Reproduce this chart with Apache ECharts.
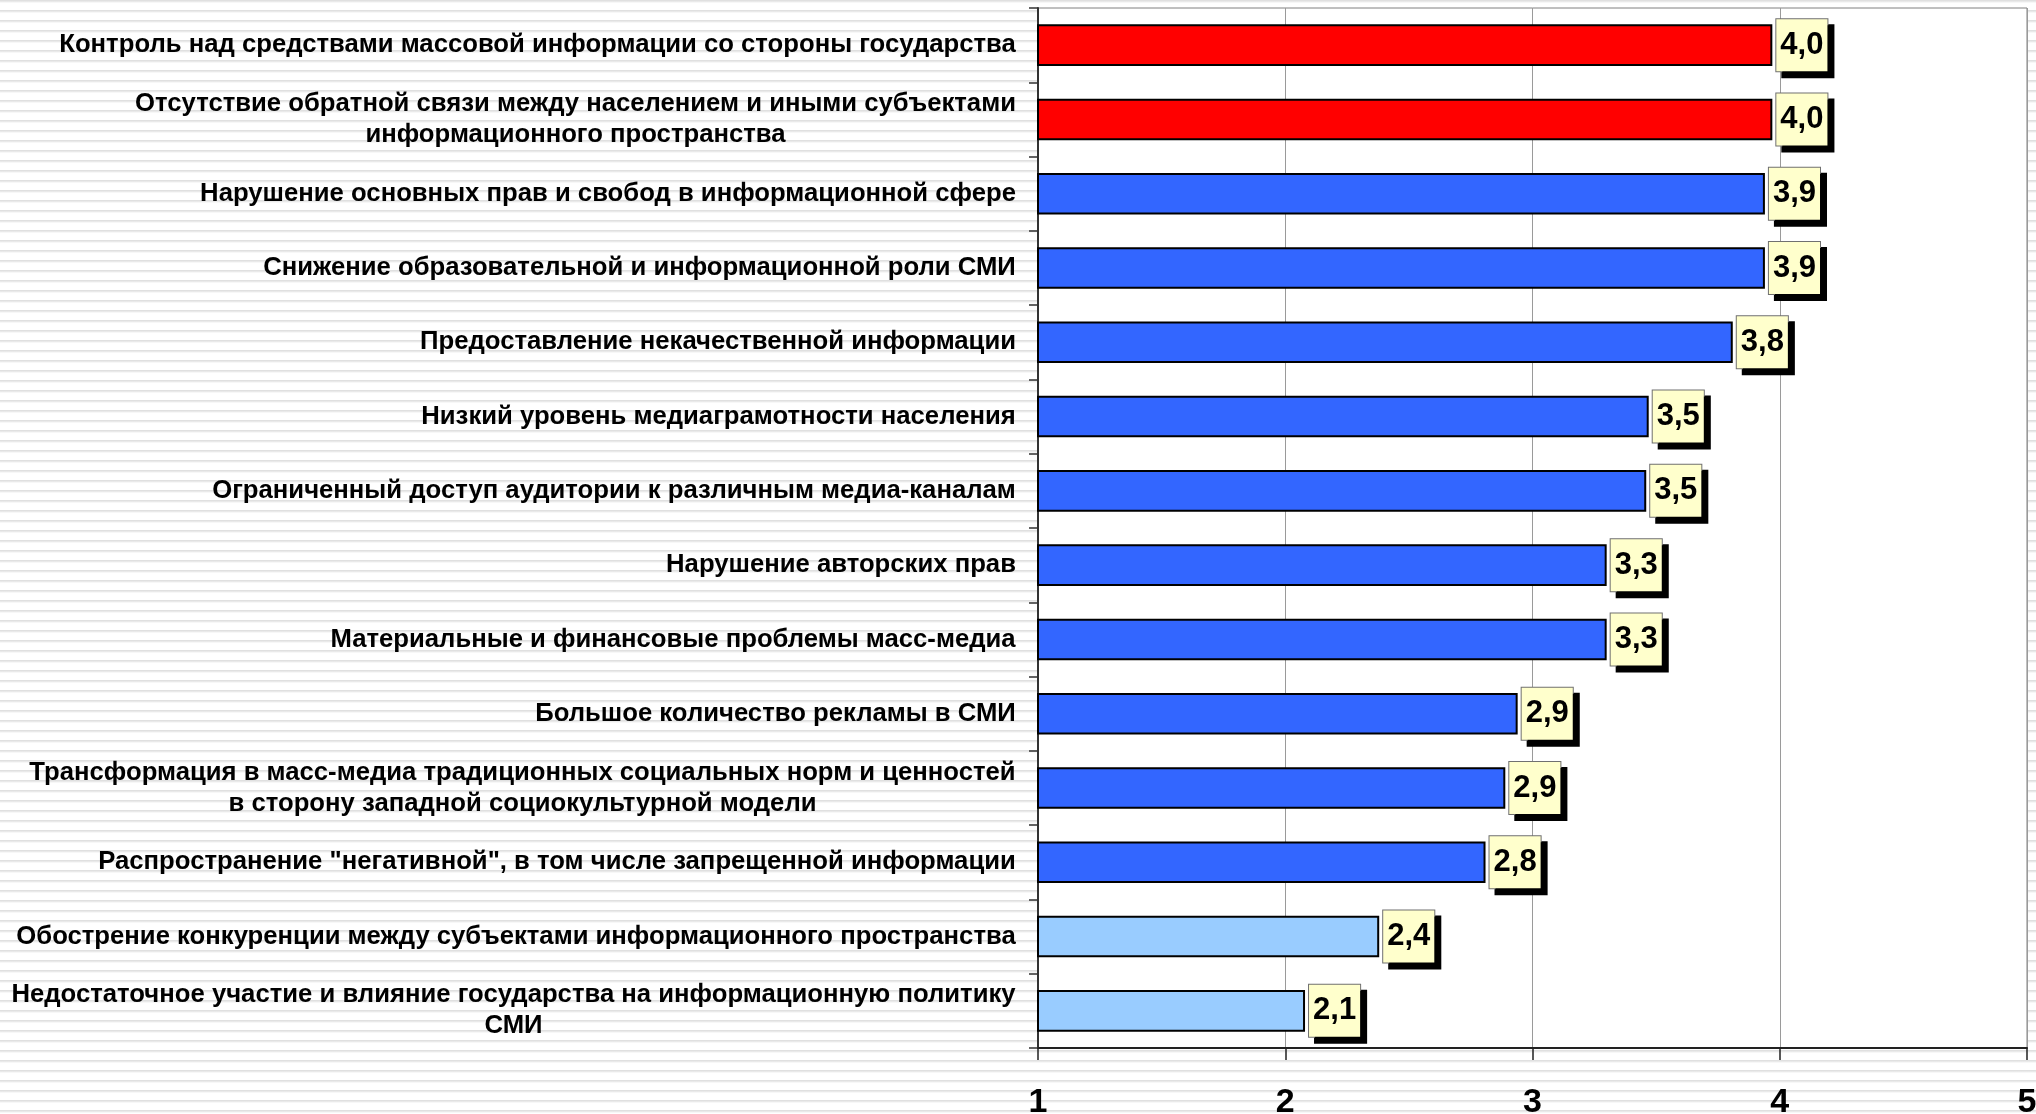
<!DOCTYPE html>
<html>
<head>
<meta charset="utf-8">
<script src="https://cdn.jsdelivr.net/npm/echarts@6/dist/echarts.min.js"></script>
<style>
html, body { margin: 0; padding: 0; }
#chart {
  width: 2036px; height: 1114px;
  background: repeating-linear-gradient(to bottom, #dcdcdc 0px, #e4e4e4 1px, #efefef 2px, #ffffff 3px, #ffffff 10px);
}
</style>
</head>
<body>
<div id="chart"></div>
<script>
const categories = [
  'Контроль над средствами массовой информации со стороны государства',
  'Отсутствие обратной связи между населением и иными субъектами\nинформационного пространства',
  'Нарушение основных прав и свобод в информационной сфере',
  'Снижение образовательной и информационной роли СМИ',
  'Предоставление некачественной информации',
  'Низкий уровень медиаграмотности населения',
  'Ограниченный доступ аудитории к различным медиа-каналам',
  'Нарушение авторских прав',
  'Материальные и финансовые проблемы масс-медиа',
  'Большое количество рекламы в СМИ',
  'Трансформация в масс-медиа традиционных социальных норм и ценностей\nв сторону западной социокультурной модели',
  'Распространение "негативной", в том числе запрещенной информации',
  'Обострение конкуренции между субъектами информационного пространства',
  'Недостаточное участие и влияние государства на информационную политику\nСМИ'
];
const values = [3.97, 3.97, 3.94, 3.94, 3.81, 3.47, 3.46, 3.30, 3.30, 2.94, 2.89, 2.81, 2.38, 2.08];
const xTicks = [1, 2, 3, 4, 5];

const CAT_FONT_SIZE = 25.7;
const ctx = document.createElement('canvas').getContext('2d');
ctx.font = 'bold ' + CAT_FONT_SIZE + 'px "Liberation Sans", Arial, sans-serif';
const rich = {};
categories.forEach((c, i) => {
  const lines = c.split('\n');
  const w = Math.max(...lines.map(l => ctx.measureText(l).width));
  rich['l' + i] = { width: Math.ceil(w) + 2, align: 'center', fontSize: CAT_FONT_SIZE, fontWeight: 'bold',
    fontFamily: '"Liberation Sans", Arial, sans-serif', color: '#000', lineHeight: 31 };
});

function barColor(i) {
  if (i < 2) return '#FF0000';
  if (i >= 12) return '#99CCFF';
  return '#3366FF';
}

const chart = echarts.init(document.getElementById('chart'));
chart.setOption({
  backgroundColor: 'transparent',
  animation: false,
  grid: {
    left: 1038, right: 9, top: 8, bottom: 66,
    containLabel: false, outerBoundsMode: 'none',
    show: true, backgroundColor: '#ffffff', borderColor: '#808080', borderWidth: 1
  },
  xAxis: {
    type: 'value',
    min: xTicks[0], max: xTicks[xTicks.length - 1], interval: xTicks[1] - xTicks[0],
    axisLine: { show: true, lineStyle: { color: '#222', width: 2 } },
    axisTick: { show: true, length: 12, lineStyle: { color: '#222', width: 1.5 } },
    splitLine: { show: true, lineStyle: { color: '#9a9a9a', width: 1 } },
    axisLabel: {
      margin: 38, color: '#000', fontSize: 34, fontWeight: 'bold',
      fontFamily: '"Liberation Sans", Arial, sans-serif',
      formatter: v => String(v)
    }
  },
  yAxis: {
    type: 'category',
    inverse: true,
    data: categories,
    axisLine: { show: true, lineStyle: { color: '#333', width: 2 } },
    axisTick: { show: true, length: 9, interval: 0, lineStyle: { color: '#333', width: 1.5 } },
    splitLine: { show: false },
    axisLabel: {
      interval: 0, margin: 21, align: 'right',
      formatter: (v, i) => v.split('\n').map(l => '{l' + i + '|' + l + '}').join('\n'),
      rich: rich
    }
  },
  series: [{
    type: 'bar',
    data: values,
    barCategoryGap: '44%',
    itemStyle: {
      color: p => barColor(p.dataIndex),
      borderColor: '#000', borderWidth: 2
    },
    label: {
      show: true, position: 'right', distance: 4,
      formatter: p => p.value.toFixed(1).replace('.', ','),
      color: '#000', fontSize: 31, fontWeight: 'bold',
      fontFamily: '"Liberation Sans", Arial, sans-serif',
      lineHeight: 34,
      backgroundColor: '#FFFFCC', borderColor: '#707070', borderWidth: 1,
      padding: [10, 4, 8, 4],
      shadowColor: '#000', shadowBlur: 0, shadowOffsetX: 6, shadowOffsetY: 6
    }
  }]
});
</script>
</body>
</html>
